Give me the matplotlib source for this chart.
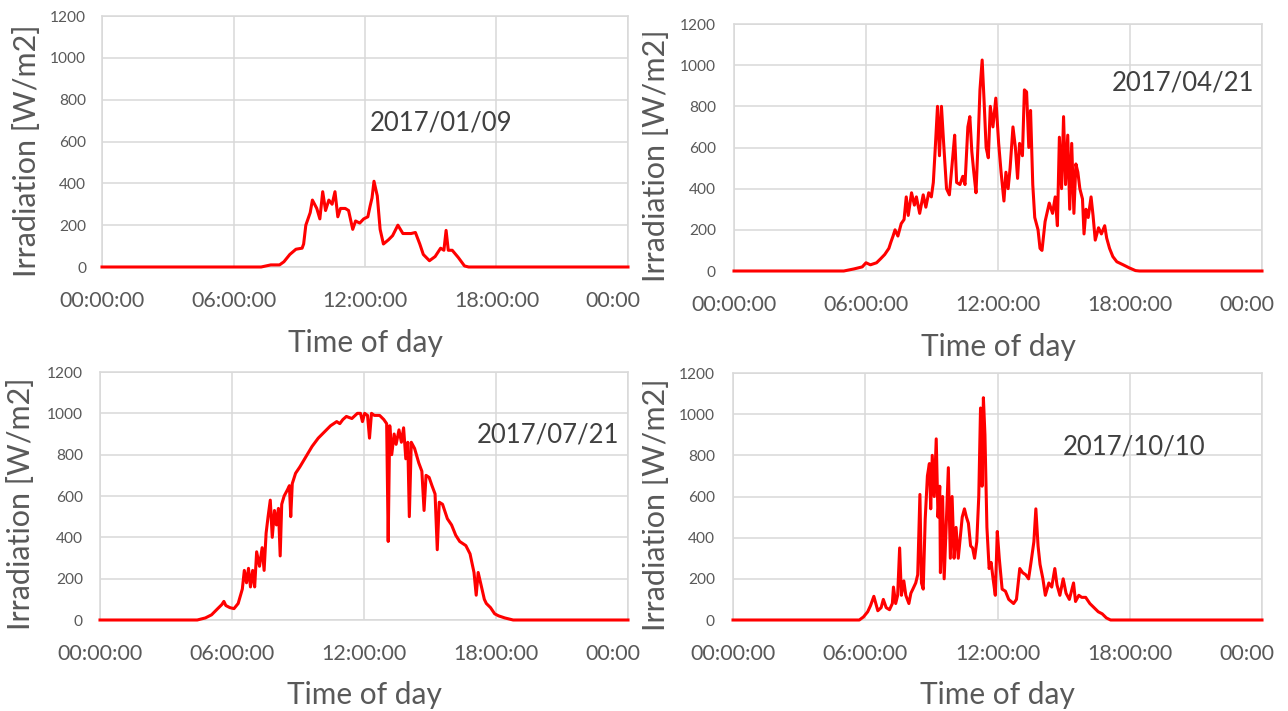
import matplotlib
matplotlib.use("Agg")
import matplotlib.pyplot as plt
from matplotlib.transforms import Bbox, TransformedBbox

plt.rcParams['font.family'] = ['Lato', 'DejaVu Sans']

# hour of day / irradiation [W/m2] for each of the four days
jan_h = [0, 7.26, 7.7, 8.1, 8.3, 8.57, 8.85, 9.13, 9.2, 9.3, 9.5, 9.6, 9.8, 9.94, 10.07, 10.2, 10.35, 10.5,
         10.63, 10.76, 10.88, 11.1, 11.25, 11.44, 11.57, 11.76, 11.94, 12.13, 12.23, 12.32, 12.41, 12.56,
         12.69, 12.84, 13.07, 13.26, 13.5, 13.73, 14.1, 14.3, 14.5, 14.66, 14.94, 15.2, 15.45, 15.6, 15.7,
         15.8, 15.98, 16.26, 16.54, 16.73, 24]
jan_w = [0, 0, 10, 10, 25, 60, 85, 90, 110, 200, 260, 320, 280, 230, 360, 270, 320, 300, 360, 240, 280,
         280, 270, 180, 220, 210, 230, 240, 290, 330, 410, 340, 180, 110, 130, 150, 200, 160, 160, 165,
         110, 60, 30, 50, 90, 80, 175, 80, 80, 45, 5, 0, 0]

apr_h = [0, 4.99, 5.45, 5.83, 6.0, 6.2, 6.48, 6.67, 6.85, 7.04, 7.13, 7.23, 7.32, 7.45, 7.6, 7.73, 7.83,
         7.92, 8.07, 8.2, 8.29, 8.44, 8.6, 8.72, 8.85, 8.97, 9.06, 9.15, 9.25, 9.34, 9.43, 9.53, 9.66, 9.79,
         9.94, 10.03, 10.12, 10.27, 10.4, 10.5, 10.63, 10.72, 10.81, 10.9, 11.0, 11.1, 11.18, 11.28, 11.37,
         11.46, 11.56, 11.65, 11.77, 11.9, 12.03, 12.14, 12.27, 12.36, 12.46, 12.55, 12.68, 12.79, 12.89,
         12.98, 13.11, 13.2, 13.3, 13.4, 13.48, 13.58, 13.67, 13.82, 13.91, 14.0, 14.14, 14.33, 14.48, 14.6,
         14.7, 14.79, 14.89, 14.98, 15.07, 15.17, 15.26, 15.35, 15.45, 15.54, 15.63, 15.72, 15.84, 15.91,
         16.0, 16.1, 16.23, 16.32, 16.42, 16.57, 16.7, 16.85, 16.94, 17.07, 17.22, 17.4, 17.69, 17.97,
         18.25, 18.43, 24]
apr_w = [0, 0, 10, 20, 40, 30, 40, 60, 80, 110, 140, 170, 200, 170, 230, 250, 360, 270, 380, 320, 360,
         280, 370, 310, 380, 360, 430, 600, 800, 560, 800, 620, 400, 370, 550, 660, 430, 420, 460, 420,
         700, 750, 580, 480, 380, 640, 880, 1025, 820, 600, 550, 800, 700, 840, 620, 480, 340, 480, 400,
         500, 700, 600, 450, 620, 560, 880, 870, 600, 780, 420, 260, 200, 110, 100, 240, 330, 280, 360,
         220, 650, 400, 750, 420, 660, 300, 620, 280, 520, 480, 400, 350, 180, 300, 260, 360, 270, 150,
         210, 180, 220, 160, 110, 70, 45, 30, 15, 2, 0, 0]

jul_h = [0, 4.42, 4.79, 5.07, 5.35, 5.54, 5.63, 5.72, 5.9, 6.09, 6.28, 6.47, 6.56, 6.66, 6.75, 6.84, 6.94,
         7.03, 7.12, 7.25, 7.37, 7.46, 7.55, 7.64, 7.74, 7.83, 7.93, 8.02, 8.11, 8.19, 8.26, 8.37, 8.52,
         8.61, 8.67, 8.74, 8.89, 9.08, 9.36, 9.64, 9.92, 10.2, 10.48, 10.76, 10.9, 11.04, 11.2, 11.32,
         11.45, 11.6, 11.7, 11.84, 11.93, 12.03, 12.16, 12.25, 12.34, 12.47, 12.71, 12.9, 13.03, 13.1,
         13.17, 13.26, 13.37, 13.46, 13.59, 13.7, 13.8, 13.9, 13.99, 14.06, 14.15, 14.3, 14.49, 14.63,
         14.73, 14.82, 14.96, 15.09, 15.23, 15.33, 15.42, 15.57, 15.79, 15.98, 16.17, 16.35, 16.63, 16.82,
         17.0, 17.1, 17.19, 17.32, 17.47, 17.56, 17.75, 17.94, 18.12, 18.4, 18.78, 24]
jul_w = [0, 0, 10, 25, 55, 75, 90, 70, 60, 55, 80, 150, 240, 180, 250, 160, 240, 160, 330, 260, 350, 240,
         420, 500, 580, 400, 530, 460, 540, 310, 560, 600, 630, 650, 500, 660, 710, 740, 790, 840, 880,
         910, 940, 960, 950, 970, 985, 980, 975, 990, 1000, 1000, 960, 1000, 990, 880, 1000, 990, 990,
         970, 950, 380, 940, 800, 900, 850, 920, 860, 930, 780, 860, 500, 860, 830, 760, 720, 530, 700,
         690, 650, 610, 340, 570, 560, 490, 460, 410, 380, 360, 320, 230, 120, 230, 170, 100, 80, 60, 30,
         20, 10, 0, 0]

oct_h = [0, 5.73, 5.92, 6.11, 6.24, 6.39, 6.48, 6.57, 6.72, 6.82, 6.95, 7.1, 7.23, 7.28, 7.38, 7.47, 7.56,
         7.64, 7.75, 7.84, 7.98, 8.07, 8.16, 8.29, 8.38, 8.48, 8.55, 8.63, 8.72, 8.82, 8.91, 8.97, 9.04,
         9.13, 9.22, 9.3, 9.38, 9.41, 9.51, 9.58, 9.68, 9.77, 9.86, 9.94, 10.03, 10.12, 10.22, 10.31, 10.4,
         10.5, 10.59, 10.68, 10.78, 10.87, 10.96, 11.06, 11.15, 11.23, 11.3, 11.36, 11.43, 11.52, 11.62,
         11.71, 11.8, 11.9, 11.99, 12.08, 12.21, 12.36, 12.51, 12.73, 12.86, 13.01, 13.14, 13.28, 13.41,
         13.52, 13.65, 13.74, 13.84, 13.93, 14.06, 14.17, 14.33, 14.46, 14.6, 14.7, 14.83, 14.98, 15.11,
         15.26, 15.45, 15.54, 15.69, 15.82, 16.0, 16.19, 16.38, 16.57, 16.75, 16.94, 17.13, 24]
oct_w = [0, 0, 15, 40, 70, 115, 80, 45, 60, 100, 60, 50, 80, 160, 80, 120, 350, 120, 190, 120, 80, 130,
         150, 180, 220, 610, 180, 150, 490, 700, 760, 540, 800, 600, 880, 500, 650, 230, 600, 200, 480,
         740, 300, 600, 300, 450, 300, 400, 500, 540, 500, 470, 360, 350, 300, 380, 600, 1030, 650, 1080,
         900, 450, 250, 280, 200, 120, 430, 300, 150, 140, 100, 80, 100, 250, 230, 220, 200, 280, 380, 540,
         360, 270, 200, 120, 180, 160, 250, 170, 120, 200, 130, 100, 180, 90, 120, 110, 110, 80, 60, 40,
         30, 10, 0, 0]

dates = ["2017/01/09", "2017/04/21", "2017/07/21", "2017/10/10"]
x_ticks = [0, 6, 12, 18, 24]
x_labels = ["00:00:00", "06:00:00", "12:00:00", "18:00:00", "00:00:00"]
y_ticks = [0, 200, 400, 600, 800, 1000, 1200]

W, H = 1288, 711
GRID = "#D9D9D9"
TXT = "#595959"

fig = plt.figure(figsize=(W / 100, H / 100), dpi=100)

# plot box (left, top, right, bottom) in px, crop (left, right) in px,
# date position (axes frac), y-label centre px, x-label baseline px, ytick pad
layout = [
    ((102, 16, 628, 267), (0, 641), (0.5095, 0.574), (27, 151), 352, 11.5),
    ((734, 24, 1262, 271), (642, 1275), (0.716, 0.761), (656, 156), 356, 13),
    ((100, 372, 628, 620), (0, 641), (0.714, 0.746), (21, 504), 704, 12.3),
    ((733, 373, 1262, 620), (642, 1275), (0.624, 0.700), (656, 505), 704, 13),
]
series = [(jan_h, jan_w), (apr_h, apr_w), (jul_h, jul_w), (oct_h, oct_w)]

for (hrs, wm2), date, (box, crop, dpos, ylab, xbase, ypad) in zip(series, dates, layout):
    x0, y0, x1, y1 = box
    ax = fig.add_axes([x0 / W, 1 - y1 / H, (x1 - x0) / W, (y1 - y0) / H])
    ax.plot(hrs, wm2, color="#FF0000", lw=2.2, zorder=3, clip_on=False)

    ax.set_xlim(0, 24)
    ax.set_ylim(0, 1200)
    ax.set_xticks(x_ticks, x_labels)
    ax.set_yticks(y_ticks)
    ax.grid(True, color=GRID, lw=1.1)
    ax.set_axisbelow(True)
    for s in ax.spines.values():
        s.set_color(GRID)
        s.set_linewidth(1.1)
    ax.tick_params(axis="x", length=0, pad=17, labelsize=15.5, labelcolor=TXT)
    ax.tick_params(axis="y", length=0, pad=ypad, labelsize=11.2, labelcolor=TXT)

    ax.set_xlabel("Time of day", fontsize=21.5, color=TXT, va="baseline")
    ax.xaxis.set_label_coords(0.5, (y1 - xbase) / (y1 - y0))
    ax.set_ylabel("Irradiation [W/m2]", fontsize=22, color=TXT, va="center")
    ax.yaxis.set_label_coords((ylab[0] - x0) / (x1 - x0), (y1 - ylab[1]) / (y1 - y0))

    ax.text(dpos[0], dpos[1], date, transform=ax.transAxes, fontsize=18.5,
            color="#404040", ha="left", va="center")

    # each chart is cut off at its own strip of the figure
    cbox = TransformedBbox(Bbox.from_extents(crop[0] / W, 0, crop[1] / W, 1), fig.transFigure)
    for t in ax.get_xticklabels() + ax.get_yticklabels() + [ax.xaxis.label, ax.yaxis.label]:
        t.set_clip_box(cbox)
        t.set_clip_on(True)

fig.savefig("out.png", dpi=100)
